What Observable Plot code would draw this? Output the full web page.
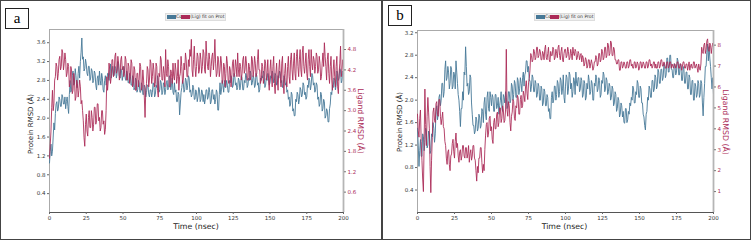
<!DOCTYPE html>
<html><head><meta charset="utf-8">
<script src="https://cdn.jsdelivr.net/npm/d3@7"></script>
<script src="https://cdn.jsdelivr.net/npm/@observablehq/plot@0.6"></script>
<style>
body{margin:0;background:#fff;}
#root{position:relative;width:752px;height:240px;overflow:hidden;font-family:"DejaVu Sans",sans-serif;background:#fff;}
.layer{position:absolute;top:0;}
.frame{position:absolute;border:1.5px solid #444;box-sizing:border-box;}
.tag{position:absolute;border:1px solid #222;font-family:"Liberation Serif",serif;font-size:15px;display:flex;align-items:center;justify-content:center;background:#fff;box-sizing:border-box;}
.lab{position:absolute;white-space:nowrap;transform:translate(-50%,-50%);}
.legend{position:absolute;display:flex;align-items:center;height:6px;background:#f0f0f0;border:0.5px solid #ddd;font-size:4.6px;color:#333;padding:0 1px;}
.sw{display:inline-block;width:9px;height:4px;}
</style>
</head><body>
<div id="root"></div>
<script>
// ---------- data ----------
const time = d3.range(0, 200.5, 0.5); // nsec, two frames per ns
const xTicks = [0, 25, 50, 75, 100, 125, 150, 175, 200];

// Panel a: protein Cα RMSD (Å), one row per 10 ns
const protA = [
 1.05,1.3,1.45,1.2,1.3,1.6,1.9,1.75,2.1,2.3, 2.35,2.15,2.2,2.45,2.4,2.25,2.25,2.5,2.45,2.3,
 2.3,2.45,2.2,2.35,2.45,2.25,2.1,2.5,2.8,2.55, 2.6,2.9,3.0,2.7,2.75,3.05,2.9,2.65,2.65,2.95,
 3.1,2.85,3.2,3.4,3.7,3.25,3.3,3.0,3.05,3.25, 3.15,2.95,2.9,3.1,3.1,2.8,2.85,3.05,3.0,2.75,
 2.8,3.0,2.95,2.7,2.6,2.85,2.9,2.7,3.0,2.8, 2.7,2.95,2.85,2.6,2.55,2.8,2.9,2.7,2.75,2.95,
 2.95,2.8,3.0,3.15,2.85,2.95,3.1,2.9,2.9,3.1, 3.05,2.85,2.95,3.2,3.15,2.9,2.85,3.05,3.0,2.8,
 2.9,3.1,3.05,2.85,2.8,3.0,2.95,2.75,2.75,2.95, 2.9,2.7,2.7,2.9,2.85,2.6,2.65,2.85,2.8,2.55,
 2.6,2.8,2.75,2.55,2.55,2.75,2.7,2.5,2.5,2.7, 2.65,2.45,2.55,2.7,2.7,2.5,2.45,2.6,2.6,2.45,
 2.55,2.75,2.7,2.45,2.5,2.7,2.65,2.9,2.8,2.55, 2.6,2.8,2.75,2.5,2.55,2.75,2.7,2.5,2.6,2.75,
 2.8,2.6,2.65,2.9,2.85,2.6,2.7,2.85,2.55,2.5, 2.75,2.55,2.6,2.35,2.35,2.55,2.5,2.07,2.3,2.55,
 2.65,2.8,2.75,2.55,2.6,2.85,2.8,2.6,2.7,2.9, 2.85,2.55,2.6,2.45,2.5,2.7,2.65,2.4,2.4,2.6,
 2.55,2.35,2.45,2.65,2.6,2.35,2.4,2.6,2.55,2.35, 2.5,2.3,2.4,2.6,2.6,2.4,2.45,2.65,2.55,2.3,
 2.35,2.6,2.6,2.4,2.5,2.3,2.4,2.6,2.55,2.17, 2.17,2.5,2.75,2.5,2.6,2.8,2.7,2.55,2.8,2.65,
 2.65,2.8,2.7,2.55,2.55,2.8,2.75,2.9,2.85,2.65, 2.7,2.95,2.9,2.7,2.75,2.6,2.65,2.85,2.8,2.6,
 2.7,2.9,2.85,2.6,2.6,2.8,2.75,2.95,2.9,2.65, 2.7,2.85,2.8,3.0,2.95,2.7,2.75,2.9,2.85,2.65,
 2.7,2.95,2.9,2.7,2.75,2.55,2.6,2.85,2.8,2.9, 2.85,3.0,2.95,2.65,2.7,2.85,2.8,2.95,2.9,2.7,
 2.75,2.9,2.85,3.0,2.95,2.75,2.8,2.95,2.9,2.7, 2.75,2.9,2.85,3.0,2.95,2.75,2.8,2.65,2.7,2.9,
 2.85,2.7,2.75,2.55,2.6,2.4,2.45,2.25,2.3,2.55, 2.5,2.15,2.2,2.05,2.05,2.4,2.35,2.55,2.5,2.3,
 2.4,2.65,2.6,2.45,2.5,2.75,2.7,2.5,2.55,2.4, 2.45,2.7,2.65,2.85,2.8,2.6,2.7,2.95,2.9,2.7,
 2.75,2.55,2.6,2.75,2.7,2.4,2.45,2.25,2.3,2.55, 2.5,2.15,2.2,2.4,2.35,2.0,2.05,2.2,2.15,1.92,
 1.92,2.2,2.3,2.55,2.5,2.7,2.65,2.85,2.8,2.6, 2.7,3.0,2.95,2.8,2.85,3.05,3.0,2.75,2.8,3.0,
 2.95
];
// Panel a: ligand fit on protein RMSD (Å)
const ligA = [
 1.6,2.0,2.4,3.1,3.6,3.0,3.2,3.9,4.0,4.4, 4.3,3.9,4.1,4.5,4.6,4.2,4.3,4.8,4.7,4.2,
 4.4,4.7,4.5,4.0,4.1,4.4,4.3,3.7,3.8,4.3, 4.2,3.5,3.6,4.1,3.9,3.3,3.4,3.9,3.8,3.4,
 3.6,3.9,3.7,3.2,3.3,3.0,2.7,2.2,1.95,2.6, 2.9,2.4,2.25,2.8,3.0,2.5,2.5,3.0,2.8,2.4,
 2.6,3.1,3.1,2.6,2.7,3.2,3.2,2.7,2.8,2.4, 2.5,3.0,3.0,2.6,2.7,2.3,2.45,3.0,4.0,3.6,
 3.9,4.4,4.2,3.8,4.0,4.5,4.5,4.0,4.1,4.6, 4.7,4.1,4.2,4.6,4.4,3.9,4.0,4.5,4.6,4.2,
 4.3,4.0,4.1,4.6,4.5,3.9,3.9,4.4,4.3,3.8, 4.0,4.5,4.4,3.7,3.8,4.3,4.2,3.6,3.6,4.1,
 4.1,3.7,3.9,4.4,4.3,3.6,3.7,4.2,3.9,3.4, 2.8,3.6,3.8,4.3,4.2,3.7,3.9,4.5,4.4,3.8,
 4.0,4.4,4.2,3.7,3.8,4.4,4.3,3.6,3.4,4.1, 4.0,4.6,4.5,3.9,3.9,4.3,4.1,3.7,4.8,4.1,
 4.0,4.5,4.3,3.7,3.7,4.2,4.1,3.8,4.4,4.0, 3.9,4.4,4.2,3.8,4.0,4.5,3.6,4.0,4.1,4.6,
 4.3,3.8,3.9,4.4,4.2,4.7,4.5,4.0,4.0,4.5, 4.3,4.8,4.6,5.1,4.2,4.0,4.5,4.9,4.3,4.0,
 4.3,4.7,4.6,4.1,4.2,4.7,4.5,4.1,4.3,4.8, 4.7,4.2,4.1,5.05,4.6,4.3,4.2,4.7,4.5,4.0,
 4.3,4.6,4.7,4.2,4.5,5.1,4.4,4.0,4.1,4.6, 4.5,4.0,4.2,4.6,4.4,3.8,3.9,4.4,4.3,3.7,
 4.1,4.6,4.4,3.9,3.8,4.3,4.2,3.7,4.0,4.4, 4.5,4.0,4.1,4.5,4.3,4.0,4.7,4.2,4.0,4.4,
 4.3,3.9,4.1,4.5,4.6,4.1,4.2,4.6,4.4,3.9, 3.9,4.4,4.3,3.9,4.0,4.6,4.5,4.0,4.2,4.6,
 4.4,4.0,4.1,4.5,4.8,4.2,4.2,3.8,3.9,4.4, 4.3,3.8,4.0,4.5,4.4,3.9,4.1,4.5,3.9,3.6,
 4.2,4.5,4.0,3.7,4.3,4.6,3.8,3.5,4.1,4.4, 3.9,3.6,4.2,4.5,4.0,3.7,4.4,4.6,3.8,3.5,
 4.1,4.4,3.9,3.7,4.3,4.6,4.0,3.8,4.5,4.7, 4.2,3.9,4.4,4.7,4.1,3.9,4.6,4.8,4.3,4.0,
 4.5,4.8,4.2,4.0,4.7,4.9,4.3,4.1,4.4,4.7, 4.1,3.9,4.5,4.8,4.3,4.0,4.8,4.4,4.2,4.6,
 4.5,4.1,4.3,4.7,4.6,4.1,4.2,4.6,4.4,3.9, 4.0,4.4,4.7,4.3,5.0,4.6,4.3,3.9,4.5,4.7,
 4.1,3.8,4.3,4.6,3.9,3.6,4.2,4.5,4.0,3.7, 4.3,4.6,3.7,3.5,4.1,4.4,4.9,4.0,4.2,4.5,
 4.2
];
const protTicksA = [0.4, 0.8, 1.2, 1.6, 2.0, 2.4, 2.8, 3.2, 3.6];
const ligTicksA = [0.6, 1.2, 1.8, 2.4, 3.0, 3.6, 4.2, 4.8];

// Panel b: protein Cα RMSD (Å)
const protB = [
 1.5,1.2,0.82,1.1,1.3,1.0,1.0,1.4,1.35,1.1, 1.25,1.5,1.45,1.15,1.2,1.45,1.4,1.05,1.1,1.4,
 1.35,1.6,1.5,1.25,1.4,1.8,1.9,1.65,1.75,2.05, 2.1,1.9,2.0,2.3,2.3,2.05,2.15,2.55,2.7,2.35,
 2.4,2.6,2.5,2.2,2.3,2.6,2.55,2.2,2.25,2.5, 2.45,2.2,2.7,2.5,2.3,2.1,2.0,1.8,1.53,1.85,
 1.85,2.15,2.0,2.5,2.45,2.95,2.6,2.25,2.3,2.1, 2.15,2.45,2.4,1.95,1.75,1.55,1.55,1.4,1.45,1.7,
 1.65,1.45,1.5,1.75,1.7,1.5,1.55,1.85,1.8,1.6, 1.95,2.05,1.75,1.65,2.05,2.15,1.85,1.8,2.15,2.05,
 1.9,2.1,2.05,1.8,1.8,2.1,2.1,1.85,1.9,2.05, 1.75,1.9,2.0,2.15,1.85,1.8,2.1,2.05,1.95,2.15,
 2.05,1.85,1.9,2.15,2.15,1.95,2.0,2.3,2.25,2.0, 2.1,2.35,2.3,2.05,2.05,2.4,2.35,2.1,2.2,2.4,
 2.3,2.15,2.4,2.5,2.25,2.45,2.5,2.7,2.7,2.5, 2.6,2.35,2.35,2.15,2.25,2.45,2.4,2.15,2.15,2.35,
 2.3,2.05,2.1,2.3,2.25,2.0,2.0,2.25,2.2,1.9, 1.95,2.2,2.15,1.9,1.9,2.1,2.05,1.8,1.85,1.67,
 1.67,2.05,2.15,1.95,2.0,2.25,2.25,2.0,2.1,2.35, 2.3,2.05,2.15,2.4,2.35,2.1,2.2,2.45,2.05,1.95,
 2.25,2.45,2.4,2.1,2.2,2.5,2.45,2.2,2.3,2.05, 2.15,2.4,2.35,2.1,2.5,2.3,2.25,2.4,2.4,2.15,
 2.2,2.4,2.35,2.05,2.1,2.35,2.3,2.0,2.05,2.3, 2.2,2.45,2.35,2.1,2.15,2.35,2.3,2.0,2.0,2.3,
 2.25,2.45,2.4,2.15,2.2,2.4,2.35,2.05,2.1,2.35, 2.3,2.5,2.45,2.15,2.2,2.4,2.35,2.1,2.15,2.3,
 2.25,2.0,2.05,2.25,2.2,1.9,1.95,2.15,2.1,1.8, 1.85,2.05,2.0,1.7,1.75,1.95,1.9,1.7,1.8,1.6,
 1.59,1.85,1.85,1.6,1.65,1.8,1.75,1.95,1.9,2.05, 2.0,2.25,2.2,1.95,1.95,2.15,2.1,2.35,2.3,2.05,
 2.05,2.25,2.2,1.95,1.95,1.75,1.7,1.55,1.47,1.75, 1.8,2.05,2.0,2.25,2.2,2.05,2.05,2.35,2.35,2.15,
 2.2,2.45,2.4,2.2,2.25,2.55,2.5,2.3,2.3,2.55, 2.55,2.35,2.4,2.65,2.6,2.4,2.45,2.75,2.75,2.5,
 2.5,2.8,2.8,2.55,2.55,2.4,2.4,2.65,2.6,2.45, 2.5,2.75,2.7,2.45,2.45,2.65,2.6,2.35,2.35,2.6,
 2.55,2.3,2.3,2.5,2.5,2.2,2.2,2.45,2.4,2.1, 2.1,2.35,2.35,2.0,2.0,2.3,2.25,2.05,2.1,2.35,
 2.3,2.05,2.1,2.35,2.3,1.95,1.72,2.05,2.3,2.6, 2.6,2.85,3.0,2.7,2.95,2.75,2.6,2.4,2.2,2.4,
 2.1
];
// Panel b: ligand fit on protein RMSD (Å)
const ligB = [
 4.7,3.9,3.6,4.5,4.9,3.4,2.5,1.6,1.0,3.5, 5.9,4.2,3.2,4.6,5.5,4.8,4.0,2.2,0.95,2.5,
 3.6,4.8,5.0,4.4,4.3,5.2,5.3,4.7,4.6,5.4, 5.4,4.6,4.2,4.5,4.8,4.1,4.0,3.4,3.2,2.6,
 2.3,2.9,3.0,2.3,2.0,2.7,2.8,3.3,3.5,2.9, 2.6,3.4,3.8,3.1,3.3,2.7,2.4,2.9,3.0,2.5,
 2.7,3.2,3.2,2.7,2.6,3.1,3.1,2.6,2.8,3.2, 2.4,2.8,3.0,2.5,2.7,3.2,3.2,2.6,2.5,2.0,
 1.5,2.2,1.9,2.6,2.6,3.1,3.1,2.4,1.9,2.3, 2.0,3.0,3.7,4.2,4.3,3.6,3.8,4.5,4.6,3.9,
 4.1,3.5,3.3,4.3,4.5,4.0,4.0,4.7,4.8,4.1, 4.3,5.0,5.0,4.3,4.5,5.1,4.9,4.3,4.4,4.9,
 7.8,4.9,4.6,5.3,5.1,4.3,3.9,4.6,4.8,5.4, 5.3,4.5,4.4,5.1,5.0,5.6,5.5,4.7,4.7,5.4,
 5.6,5.0,5.1,5.8,5.6,5.3,6.0,6.3,5.7,5.4, 6.2,6.4,6.8,7.6,7.5,7.2,7.3,7.8,7.7,7.3,
 7.4,7.9,7.9,7.4,7.5,7.8,7.7,7.3,7.3,7.7, 7.6,7.3,7.8,8.0,7.4,7.3,7.6,7.9,7.3,7.2,
 7.7,7.5,7.5,7.9,7.8,7.3,7.4,7.8,7.6,7.4, 7.9,8.0,7.5,7.3,7.7,7.9,7.3,7.2,7.6,7.8,
 7.8,7.4,7.5,7.9,7.7,7.3,7.4,7.8,7.6,7.3, 7.9,7.6,7.5,7.8,7.7,7.3,7.4,7.7,7.6,7.3,
 7.5,7.6,7.2,7.5,7.4,7.0,7.1,7.4,7.3,6.9, 7.0,7.3,7.3,6.9,7.1,7.3,7.1,6.8,6.9,7.2,
 7.2,7.5,7.4,7.0,7.1,7.6,7.6,7.2,7.3,7.8, 7.7,7.3,7.4,7.9,7.9,7.4,7.5,8.1,8.0,7.5,
 7.6,8.2,8.1,7.5,7.5,7.9,7.8,7.3,7.3,7.1, 7.1,7.3,7.3,6.8,6.8,7.2,7.2,6.9,7.0,7.2,
 7.1,6.9,6.9,7.2,7.2,6.9,7.0,7.3,7.3,7.0, 7.1,6.9,6.9,7.2,7.2,6.9,7.0,7.2,7.1,6.8,
 6.9,7.2,7.2,6.9,7.0,7.2,7.1,6.9,6.9,7.2, 7.2,6.9,7.0,7.3,7.3,7.0,7.1,6.9,7.0,7.2,
 7.2,6.9,7.1,6.9,6.9,7.2,7.2,6.9,7.0,7.3, 7.3,7.0,7.0,7.2,7.1,6.9,6.9,7.2,7.2,6.9,
 7.0,7.2,7.2,6.9,7.1,7.0,6.9,7.1,7.1,6.9, 7.0,7.2,7.2,6.9,6.9,7.1,7.1,6.8,7.0,7.2,
 7.2,6.9,6.9,7.1,7.1,6.8,7.0,7.2,6.8,7.0, 7.1,6.9,6.9,7.2,7.2,6.9,7.0,7.1,6.9,6.7,
 7.1,6.9,6.8,7.1,7.9,7.7,7.6,8.0,8.1,7.6, 7.8,8.2,8.3,7.8,7.7,8.1,8.0,7.6,7.9,8.1,
 7.9
];
const protTicksB = [0.4, 0.8, 1.2, 1.6, 2.0, 2.4, 2.8, 3.2];
const ligTicksB = [1, 2, 3, 4, 5, 6, 7, 8];

const legendLabels = ["Cα", "(Lig) fit on Prot"];
const panelLetters = ["a", "b"];

for (const [n, a] of Object.entries({protA, ligA, protB, ligB})) {
  if (a.length !== time.length) throw new Error(n + " has " + a.length + " values");
}

// ---------- style ----------
const BLUE = "#467897";
const RED = "#ab2a57";
const root = document.getElementById("root");

function addDiv(cls, css, html) {
  const d = document.createElement("div");
  d.className = cls;
  Object.assign(d.style, css);
  if (html != null) d.innerHTML = html;
  root.appendChild(d);
  return d;
}

function panel(cfg) {
  const common = {
    width: 376, height: 240,
    marginLeft: cfg.ml, marginRight: cfg.mr, marginTop: cfg.mt, marginBottom: cfg.mb,
    style: {background: "transparent", fontFamily: "DejaVu Sans, sans-serif", fontSize: "5.5px", color: "#333", overflow: "visible"}
  };
  const p1 = Plot.plot({
    ...common,
    x: {domain: [0, 200]},
    y: {domain: cfg.leftDomain},
    marks: [
      Plot.frame({stroke: "#aaa", strokeWidth: 1}),
      Plot.ruleY([0], {stroke: "#555", strokeWidth: 1}),
      Plot.axisX({ticks: xTicks, tickSize: 2, tickPadding: 2, label: null, tickFormat: d => String(d), stroke: "#666"}),
      Plot.axisY({ticks: cfg.leftTicks, tickSize: 2, tickPadding: 2, label: null, tickFormat: d => d.toFixed(1), stroke: "#666"}),
      Plot.line(cfg.prot, {x: (d, i) => time[i], y: d => d, stroke: BLUE, strokeWidth: 0.95, strokeOpacity: 0.95})
    ]
  });
  const p2 = Plot.plot({
    ...common,
    x: {domain: [0, 200], axis: null},
    y: {domain: cfg.rightDomain},
    marks: [
      Plot.line(cfg.lig, {x: (d, i) => time[i], y: d => d, stroke: RED, strokeWidth: 0.95, strokeOpacity: 0.93}),
      Plot.ruleX([200], {stroke: "#b5b5b5", strokeWidth: 1.8}),
      Plot.axisY({anchor: "right", ticks: cfg.rightTicks, tickSize: 2, tickPadding: 2, label: null,
        tickFormat: cfg.rightFmt, stroke: "#777", fill: RED})
    ]
  });
  for (const p of [p1, p2]) {
    const w = document.createElement("div");
    w.className = "layer";
    w.style.left = cfg.left + "px";
    w.appendChild(p);
    root.appendChild(w);
  }
  addDiv("lab", {left: cfg.protLab[0] + "px", top: cfg.protLab[1] + "px", fontSize: "7px", color: "#222", transform: "translate(-50%,-50%) rotate(-90deg)"}, "Protein RMSD (Å)");
  addDiv("lab", {left: cfg.ligLab[0] + "px", top: cfg.ligLab[1] + "px", fontSize: "7.8px", color: RED, transform: "translate(-50%,-50%) rotate(90deg)"}, "Ligand RMSD (Å)");
  addDiv("lab", {left: cfg.timeLab[0] + "px", top: cfg.timeLab[1] + "px", fontSize: "7.8px", color: "#222"}, "Time (nsec)");
  addDiv("legend", {left: cfg.leg[0] + "px", top: cfg.leg[1] + "px"},
    `<span class="sw" style="background:${BLUE}"></span><span>${legendLabels[0]}</span><span class="sw" style="background:${RED};margin-left:-1px"></span><span>${legendLabels[1]}</span>`);
  addDiv("tag", {left: cfg.tag[0] + "px", top: cfg.tag[1] + "px", width: "24px", height: "21px"}, cfg.letter);
}

addDiv("frame", {left: "0px", top: "0px", width: "383px", height: "240px"});
addDiv("frame", {left: "381px", top: "0px", width: "370px", height: "240px"});

panel({
  left: 0, ml: 49, mr: 33, mt: 29, mb: 28,
  leftDomain: [0, 3.88], rightDomain: [0, 5.39],
  leftTicks: protTicksA, rightTicks: ligTicksA, rightFmt: d => d.toFixed(1),
  prot: protA, lig: ligA,
  protLab: [31, 124], ligLab: [360, 121], timeLab: [196, 225.5],
  leg: [165, 12.5], tag: [5, 8], letter: panelLetters[0]
});
panel({
  left: 376, ml: 41, mr: 39, mt: 30, mb: 28,
  leftDomain: [0, 3.24], rightDomain: [0, 8.7],
  leftTicks: protTicksB, rightTicks: ligTicksB, rightFmt: d => String(d),
  prot: protB, lig: ligB,
  protLab: [399.5, 122], ligLab: [724.5, 122], timeLab: [564.5, 226],
  leg: [534, 12.5], tag: [388, 5], letter: panelLetters[1]
});
</script>
</body></html>
